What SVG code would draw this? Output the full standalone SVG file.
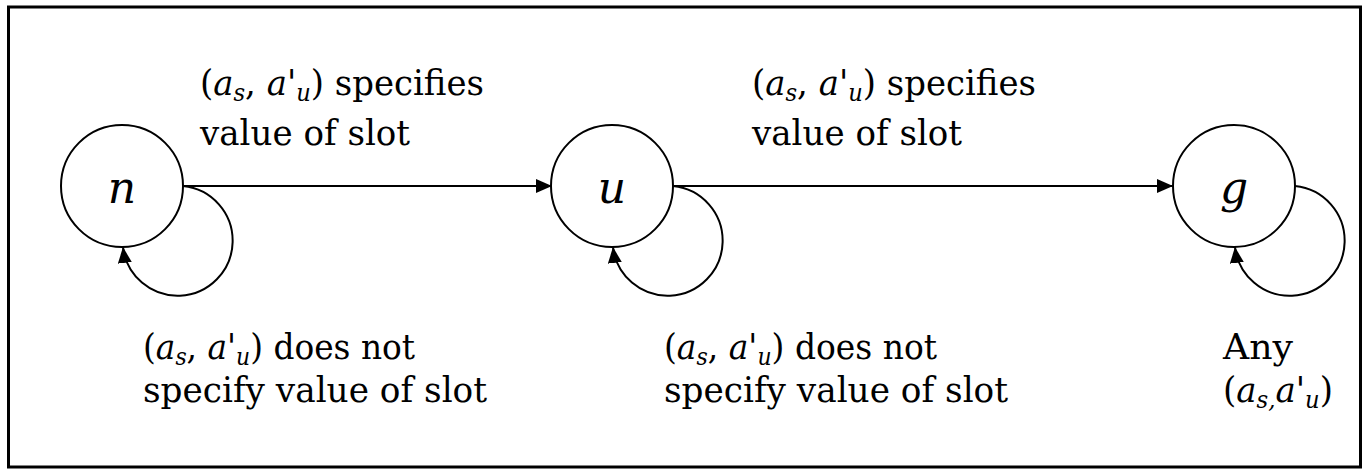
<svg xmlns="http://www.w3.org/2000/svg" width="1369" height="474" viewBox="0 0 1369 474">
<style>
text{font-family:'DejaVu Serif','Liberation Serif',serif;fill:#000}
.t{font-size:36px}
.i{font-style:italic}
.sub{font-style:italic;font-size:24px}
.node{fill:#fff;stroke:#000;stroke-width:2}
.lab{font-size:44px;font-style:italic;text-anchor:middle}
.edge{fill:none;stroke:#000;stroke-width:2}
</style>
<defs>
<marker id="ah" markerWidth="16" markerHeight="14" refX="16" refY="7" orient="auto" markerUnits="userSpaceOnUse">
<path d="M0,0 L16,7 L0,14 Z" fill="#000"/>
</marker>
</defs>
<rect x="8.5" y="7" width="1352" height="460" fill="#fff" stroke="#000" stroke-width="3"/>
<g id="connectors">
<path class="edge" d="M183,186 L552,186" marker-end="url(#ah)"/>
<path class="edge" d="M673,186 L1173,186" marker-end="url(#ah)"/>
<path class="edge" d="M183,186 A55,55 0 1 1 123,247" marker-end="url(#ah)"/>
<path class="edge" d="M673,186 A55,55 0 1 1 613,247" marker-end="url(#ah)"/>
<path class="edge" d="M1295,186 A55,55 0 1 1 1235,247" marker-end="url(#ah)"/>
</g>
<g id="node-n"><circle class="node" cx="122" cy="186" r="61"/><text class="lab" x="122" y="203">n</text></g>
<g id="node-u"><circle class="node" cx="612" cy="186" r="61"/><text class="lab" x="612" y="203">u</text></g>
<g id="node-g"><circle class="node" cx="1234" cy="186" r="61"/><text class="lab" x="1234" y="203">g</text></g>
<g id="label-n-u">
<text class="t" x="200" y="95" textLength="284" lengthAdjust="spacingAndGlyphs">(<tspan class="i">a</tspan><tspan class="sub" dy="6">s</tspan><tspan dy="-6">, </tspan><tspan class="i">a</tspan>'<tspan class="sub" dy="6">u</tspan><tspan dy="-6">) specifies</tspan></text>
<text class="t" x="200" y="145" textLength="210" lengthAdjust="spacingAndGlyphs">value of slot</text>
</g>
<g id="label-u-g">
<text class="t" x="752" y="95" textLength="284" lengthAdjust="spacingAndGlyphs">(<tspan class="i">a</tspan><tspan class="sub" dy="6">s</tspan><tspan dy="-6">, </tspan><tspan class="i">a</tspan>'<tspan class="sub" dy="6">u</tspan><tspan dy="-6">) specifies</tspan></text>
<text class="t" x="752" y="145" textLength="210" lengthAdjust="spacingAndGlyphs">value of slot</text>
</g>
<g id="label-n-loop">
<text class="t" x="143" y="359" textLength="272" lengthAdjust="spacingAndGlyphs">(<tspan class="i">a</tspan><tspan class="sub" dy="6">s</tspan><tspan dy="-6">, </tspan><tspan class="i">a</tspan>'<tspan class="sub" dy="6">u</tspan><tspan dy="-6">) does not</tspan></text>
<text class="t" x="143" y="402" textLength="344" lengthAdjust="spacingAndGlyphs">specify value of slot</text>
</g>
<g id="label-u-loop">
<text class="t" x="664" y="359" textLength="273" lengthAdjust="spacingAndGlyphs">(<tspan class="i">a</tspan><tspan class="sub" dy="6">s</tspan><tspan dy="-6">, </tspan><tspan class="i">a</tspan>'<tspan class="sub" dy="6">u</tspan><tspan dy="-6">) does not</tspan></text>
<text class="t" x="664" y="402" textLength="344" lengthAdjust="spacingAndGlyphs">specify value of slot</text>
</g>
<g id="label-g-loop">
<text class="t" x="1223" y="359" textLength="70" lengthAdjust="spacingAndGlyphs">Any</text>
<text class="t" x="1223" y="402" textLength="110" lengthAdjust="spacingAndGlyphs">(<tspan class="i">a</tspan><tspan class="sub" dy="6">s,</tspan><tspan class="i" dy="-6">a</tspan>'<tspan class="sub" dy="6">u</tspan><tspan dy="-6">)</tspan></text>
</g>
</svg>
